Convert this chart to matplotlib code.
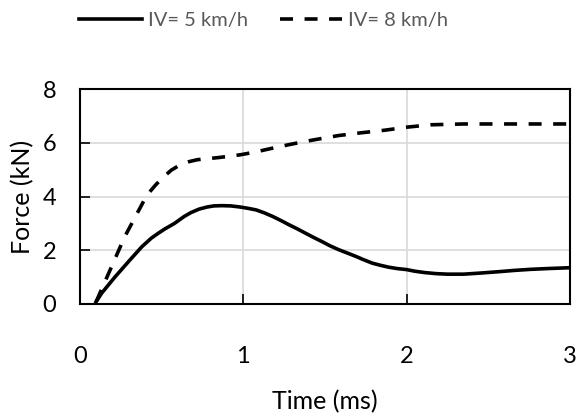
import matplotlib
matplotlib.use("Agg")
import matplotlib.pyplot as plt

# IV = 5 km/h (solid)
t_5 = [0.10, 0.134, 0.215, 0.296, 0.38, 0.438, 0.48, 0.52, 0.58, 0.64, 0.68, 0.73,
       0.78, 0.82, 0.87, 0.925, 0.98, 1.03, 1.08, 1.13, 1.18, 1.23, 1.28, 1.33,
       1.38, 1.43, 1.48, 1.53, 1.585, 1.64, 1.69, 1.74, 1.79, 1.84, 1.89, 1.94,
       2.0, 2.05, 2.11, 2.18, 2.25, 2.35, 2.45, 2.56, 2.66, 2.76, 2.87, 3.0]
f_5 = [0.08, 0.40, 1.0, 1.56, 2.13, 2.45, 2.63, 2.79, 3.0, 3.26, 3.4, 3.53,
       3.61, 3.65, 3.66, 3.65, 3.61, 3.56, 3.5, 3.39, 3.26, 3.11, 2.95, 2.8,
       2.64, 2.48, 2.33, 2.17, 2.02, 1.89, 1.77, 1.64, 1.52, 1.44, 1.37, 1.32,
       1.28, 1.22, 1.17, 1.13, 1.11, 1.11, 1.15, 1.2, 1.25, 1.29, 1.32, 1.35]

# IV = 8 km/h (dashed)
t_8 = [0.10, 0.195, 0.275, 0.367, 0.41, 0.46, 0.5, 0.56, 0.62, 0.67, 0.72, 0.85,
       0.98, 1.07, 1.18, 1.28, 1.38, 1.48, 1.585, 1.72, 1.87, 2.0, 2.15, 2.35,
       2.6, 3.0]
f_8 = [0.08, 1.39, 2.5, 3.55, 4.04, 4.4, 4.66, 4.98, 5.2, 5.3, 5.37, 5.45,
       5.55, 5.65, 5.8, 5.93, 6.05, 6.16, 6.27, 6.37, 6.47, 6.58, 6.67, 6.7,
       6.7, 6.7]

plt.rcParams['font.family'] = ['Lato', 'DejaVu Sans']

fig = plt.figure(figsize=(5.76, 4.19), dpi=100)
ax = fig.add_axes([0.1384, 0.2745, 0.8512, 0.513])

ax.plot(t_5, f_5, color="black", lw=2.6, solid_joinstyle="round", label="IV= 5 km/h")
ax.plot(t_8, f_8, color="black", lw=2.6, dashes=(3.6, 3.2), label="IV= 8 km/h")

ax.set_xlim(0, 3)
ax.set_ylim(0, 8)
ax.set_xticks([0, 1, 2, 3])
ax.set_yticks([0, 2, 4, 6, 8])
ax.grid(True, color="#d9d9d9", lw=1.2)
ax.set_axisbelow(True)
for s in ax.spines.values():
    s.set_linewidth(1.5)
    s.set_color("black")
ax.tick_params(direction="in", length=7, width=1.2, labelsize=17, colors="black")
ax.tick_params(axis="x", pad=30)
ax.tick_params(axis="y", pad=17)

ax.set_xlabel("Time (ms)", fontsize=18, labelpad=17)
ax.set_ylabel("Force (kN)", fontsize=18, labelpad=6)

leg = fig.legend(loc="center", bbox_to_anchor=(0.458, 0.952), ncol=2, frameon=False,
                 fontsize=14.5, handlelength=3.1, handletextpad=0.3, columnspacing=1.6)
for txt in leg.get_texts():
    txt.set_color("#595959")

fig.savefig("out.png", dpi=100)
